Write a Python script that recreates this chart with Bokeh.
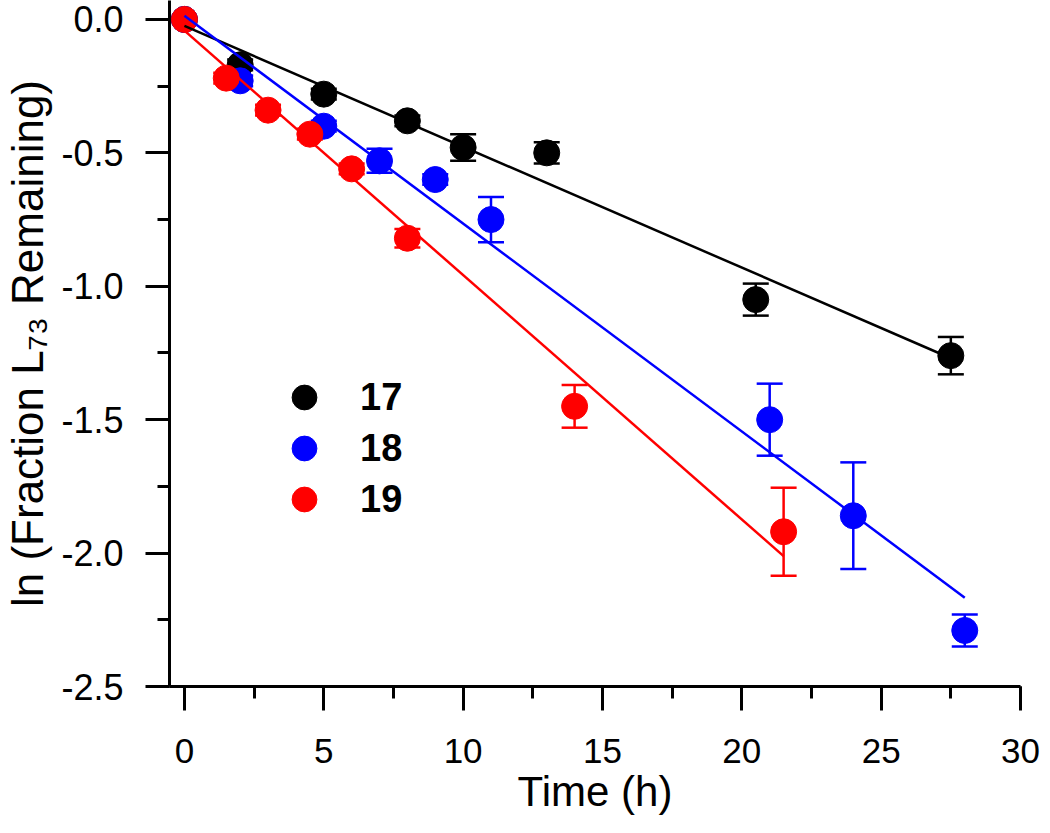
from bokeh.plotting import figure
from bokeh.models import (ColumnDataSource, Whisker, TeeHead, Legend, LegendItem,
                          Range1d, SingleIntervalTicker, NumeralTickFormatter)
from bokeh.embed import file_html
from bokeh.resources import INLINE

# ---- data ----
x17 = [0, 2, 5, 8, 10, 13, 20.5, 27.5]
y17 = [0, -0.17, -0.28, -0.38, -0.48, -0.50, -1.05, -1.26]
e17 = [0, 0.02, 0.02, 0.02, 0.05, 0.04, 0.06, 0.07]

x18 = [0, 2, 5, 7, 9, 11, 21, 24, 28]
y18 = [0, -0.23, -0.40, -0.53, -0.60, -0.75, -1.50, -1.86, -2.29]
e18 = [0, 0.02, 0.02, 0.045, 0.02, 0.085, 0.135, 0.20, 0.06]

x19 = [0, 1.5, 3, 4.5, 6, 8, 14, 21.5]
y19 = [0, -0.22, -0.34, -0.43, -0.56, -0.82, -1.45, -1.92]
e19 = [0, 0.02, 0.02, 0.02, 0.02, 0.035, 0.08, 0.165]

# linear fits (intercept, slope, x-extent)
fit17 = (-0.024, -0.0453, 0, 27.5)
fit18 = (0.014, -0.0779, 0, 28)
fit19 = (-0.042, -0.0916, 0, 21.5)

series_names = ["17", "18", "19"]
colors = ["#000000", "#0000FF", "#FF0000"]

x_label = "Time (h)"
y_label = "ln (Fraction L\u2087\u2083 Remaining)"

FONT = "Liberation Sans"

p = figure(width=1040, height=820, output_backend="svg", toolbar_location=None,
           x_range=Range1d(-0.536, 30), y_range=Range1d(-2.5, 0.071),
           min_border_left=168, min_border_right=20, min_border_top=0,
           min_border_bottom=134)
p.outline_line_color = None
p.grid.visible = False
p.background_fill_color = "white"

datasets = [(x17, y17, e17, fit17), (x18, y18, e18, fit18), (x19, y19, e19, fit19)]
marker_renderers = []
for (xs, ys, es, fit), c in zip(datasets, colors):
    src = ColumnDataSource(dict(x=xs, y=ys,
                                lo=[y - e for y, e in zip(ys, es)],
                                hi=[y + e for y, e in zip(ys, es)]))
    w = Whisker(source=src, base="x", lower="lo", upper="hi", dimension="height",
                line_color=c, line_width=2.5,
                upper_head=TeeHead(size=26, line_color=c, line_width=2.5),
                lower_head=TeeHead(size=26, line_color=c, line_width=2.5))
    p.add_layout(w)
    r = p.scatter("x", "y", source=src, size=26, fill_color=c, line_color=c)
    marker_renderers.append(r)

for (xs, ys, es, fit), c in zip(datasets, colors):
    b, m, xa, xb = fit
    p.line([xa, xb], [b + m * xa, b + m * xb], line_color=c, line_width=2.5)

# axes
p.xaxis.ticker = SingleIntervalTicker(interval=5, num_minor_ticks=2)
p.yaxis.ticker = SingleIntervalTicker(interval=0.5, num_minor_ticks=2)
p.yaxis.formatter = NumeralTickFormatter(format="0.0")
for ax in (p.xaxis[0], p.yaxis[0]):
    ax.axis_line_width = 3
    ax.major_tick_line_width = 3
    ax.minor_tick_line_width = 3
    ax.major_tick_out = 24
    ax.major_tick_in = 0
    ax.minor_tick_out = 12
    ax.minor_tick_in = 0
    ax.major_label_text_font = FONT
    ax.major_label_text_color = "black"
    ax.axis_label_text_font = FONT
    ax.axis_label_text_font_style = "normal"
    ax.axis_label_text_color = "black"
p.xaxis.major_label_text_font_size = "35px"
p.yaxis.major_label_text_font_size = "36px"
p.xaxis.axis_label_text_font_size = "42px"
p.yaxis.axis_label_text_font_size = "44px"
p.xaxis.axis_label = x_label
p.yaxis.axis_label = y_label
p.xaxis.major_label_standoff = 28
p.yaxis.major_label_standoff = 22
p.xaxis.axis_label_standoff = 2
p.yaxis.axis_label_standoff = 6

# one legend per entry, so that glyph size and row spacing can be matched
legend_y = [258, 207, 156]
for n, r, ly in zip(series_names, marker_renderers, legend_y):
    lg = Legend(items=[LegendItem(label=n, renderers=[r])],
                location=(104, ly), glyph_width=62, glyph_height=62,
                label_standoff=25, padding=0, margin=0,
                border_line_alpha=0, background_fill_alpha=0,
                label_text_font=FONT, label_text_font_size="38px",
                label_text_font_style="bold", label_text_color="black")
    p.add_layout(lg)

open("out.html", "w").write(file_html(p, INLINE))
